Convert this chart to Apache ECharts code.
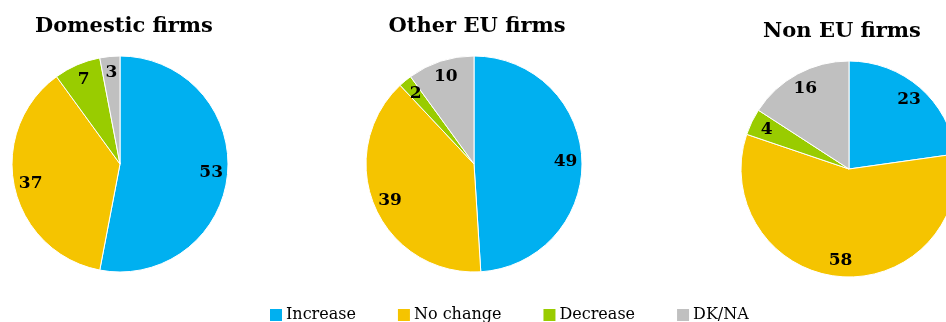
<!DOCTYPE html>
<html>
<head>
<meta charset="utf-8">
<script src="https://cdn.jsdelivr.net/npm/echarts@6/dist/echarts.min.js"></script>
<style>
html, body { margin: 0; padding: 0; background: #fff; }
#chart { width: 946px; height: 322px; }
</style>
</head>
<body>
<div id="chart"></div>
<script>
// answer categories, same order in every pie
const categories = ['Increase', 'No change', 'Decrease', 'DK/NA'];
const groups = ['Domestic firms', 'Other EU firms', 'Non EU firms'];
const domestic = [53, 37, 7, 3];
const otherEU = [49, 39, 2, 10];
const nonEU = [23, 58, 4, 16];
const values = [domestic, otherEU, nonEU];

const colors = ['#00B0F0', '#F5C400', '#99CC00', '#C0C0C0'];
const centers = [[120, 164], [474, 164], [849, 169]];
const titleX = [124, 477, 842];
const titleTops = [16, 16, 21];
const radius = 108;
const serif = '"DejaVu Serif", "Liberation Serif", serif';

const chart = echarts.init(document.getElementById('chart'));

function toData(arr) {
    return arr.map((v, i) => ({ name: categories[i], value: v }));
}

const series = [];
// the coloured pies
values.forEach((arr, k) => {
    series.push({
        type: 'pie',
        name: groups[k],
        center: centers[k],
        radius: radius,
        startAngle: 90,
        clockwise: true,
        silent: true,
        label: { show: false },
        labelLine: { show: false },
        itemStyle: { borderColor: '#fff', borderWidth: 1 },
        data: toData(arr),
    });
});
// invisible ring on top, only to hold the value labels near the rim
values.forEach((arr, k) => {
    series.push({
        type: 'pie',
        name: groups[k] + ' labels',
        center: centers[k],
        radius: [radius * 0.64, radius],
        startAngle: 90,
        clockwise: true,
        silent: true,
        legendHoverLink: false,
        itemStyle: { color: 'transparent', borderWidth: 0 },
        label: {
            show: true,
            position: 'inside',
            formatter: '{c}',
            color: '#000',
            fontFamily: serif,
            fontWeight: 'bold',
            fontSize: 17,
        },
        labelLine: { show: false },
        data: toData(arr),
    });
});

const option = {
    color: colors,
    animation: false,
    title: groups.map((g, k) => ({
        text: g,
        left: titleX[k],
        top: titleTops[k],
        textAlign: 'center',
        padding: 0,
        textStyle: {
            fontFamily: serif,
            fontWeight: 'bold',
            fontSize: 21,
            color: '#000',
        },
    })),
    legend: {
        data: categories,
        left: 268,
        top: 307,
        icon: 'rect',
        itemWidth: 14,
        itemHeight: 14,
        itemGap: 40,
        padding: 0,
        selectedMode: false,
        textStyle: {
            fontFamily: serif,
            fontSize: 16,
            color: '#000',
            padding: [0, 0, 0, -2],
        },
    },
    series: series,
};

chart.setOption(option);
</script>
</body>
</html>
